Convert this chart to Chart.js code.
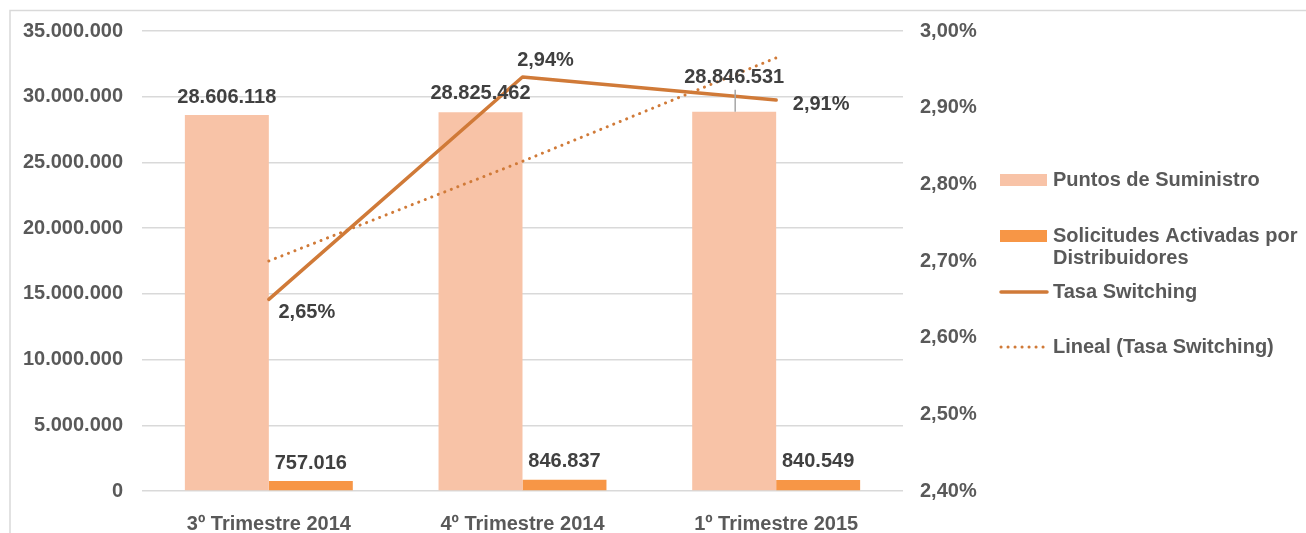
<!DOCTYPE html>
<html>
<head>
<meta charset="utf-8">
<script src="https://cdn.jsdelivr.net/npm/chart.js@4.4.1/dist/chart.umd.min.js"></script>
<style>
  html, body { margin: 0; padding: 0; background: #ffffff; }
  #wrap { width: 1306px; height: 533px; position: relative; }
</style>
</head>
<body>
<div id="wrap"><canvas id="c" width="1306" height="533"></canvas></div>
<script>
// ---- data ----
const categories = ['3º Trimestre 2014', '4º Trimestre 2014', '1º Trimestre 2015'];
const puntosSuministro = [28606118, 28825462, 28846531];
const solicitudesActivadas = [757016, 846837, 840549];
const tasaSwitching = [2.65, 2.94, 2.91];
const linealTasa = [2.70, 2.83, 2.965];
const leftTicks = [0, 5000000, 10000000, 15000000, 20000000, 25000000, 30000000, 35000000];
const rightTicks = [2.40, 2.50, 2.60, 2.70, 2.80, 2.90, 3.00];

const FONT = '"Liberation Sans", Arial, Helvetica, sans-serif';
const AXIS_COLOR = '#595959';
const LABEL_COLOR = '#404040';
const C_PUNTOS = '#F8C3A7';
const C_SOLIC = '#F79646';
const C_LINE = '#D07A38';

function fmtThousands(v) {
  return Math.round(v).toString().replace(/\B(?=(\d{3})+(?!\d))/g, '.');
}
function fmtPct(v) {
  return v.toFixed(2).replace('.', ',') + '%';
}

// data-label offsets (pixels relative to element anchor)
const labelOffsets = {
  puntos: [[0, -18], [0, -19], [0, -34]],
  solic: [[0, -18], [0, -18], [0, -18]],
  tasa: [[38, 13], [23, -17], [45, 4]]
};

const framePlugin = {
  id: 'frame',
  beforeDraw(chart) {
    const ctx = chart.ctx;
    ctx.save();
    ctx.fillStyle = '#ffffff';
    ctx.fillRect(0, 0, chart.width, chart.height);
    ctx.strokeStyle = '#D9D9D9';
    ctx.lineWidth = 1.5;
    ctx.beginPath();
    ctx.moveTo(10, chart.height);
    ctx.lineTo(10, 10.5);
    ctx.lineTo(chart.width, 10.5);
    ctx.stroke();
    ctx.restore();
  }
};

const labelsPlugin = {
  id: 'dlabels',
  afterDatasetsDraw(chart) {
    const ctx = chart.ctx;
    ctx.save();
    ctx.font = 'bold 20px ' + FONT;
    ctx.fillStyle = LABEL_COLOR;
    ctx.textAlign = 'center';
    ctx.textBaseline = 'middle';
    const puntosMeta = chart.getDatasetMeta(2);
    const solicMeta = chart.getDatasetMeta(3);
    const tasaMeta = chart.getDatasetMeta(0);
    // leader line for third Puntos label
    const p3 = puntosMeta.data[2];
    ctx.strokeStyle = '#A6A6A6';
    ctx.lineWidth = 1.5;
    ctx.beginPath();
    ctx.moveTo(p3.x + 1, p3.y + labelOffsets.puntos[2][1] + 12);
    ctx.lineTo(p3.x + 1, p3.y);
    ctx.stroke();
    puntosMeta.data.forEach((el, i) => {
      ctx.fillText(fmtThousands(puntosSuministro[i]), el.x + labelOffsets.puntos[i][0], el.y + labelOffsets.puntos[i][1]);
    });
    solicMeta.data.forEach((el, i) => {
      ctx.fillText(fmtThousands(solicitudesActivadas[i]), el.x + labelOffsets.solic[i][0], el.y + labelOffsets.solic[i][1]);
    });
    tasaMeta.data.forEach((el, i) => {
      ctx.fillText(fmtPct(tasaSwitching[i]), el.x + labelOffsets.tasa[i][0], el.y + labelOffsets.tasa[i][1]);
    });
    ctx.restore();
  }
};

const legendPlugin = {
  id: 'sideLegend',
  afterDraw(chart) {
    const ctx = chart.ctx;
    const ds = chart.data.datasets;
    const items = [
      { d: ds[2], type: 'box', y: 180 },
      { d: ds[3], type: 'box', y: 236 },
      { d: ds[0], type: 'line', y: 292 },
      { d: ds[1], type: 'dot', y: 347 }
    ];
    const sx = 1000, sw = 47, tx = 1053, maxW = 1306 - tx - 3;
    ctx.save();
    ctx.font = 'bold 20px ' + FONT;
    ctx.textAlign = 'left';
    ctx.textBaseline = 'middle';
    items.forEach(it => {
      if (it.type === 'box') {
        ctx.fillStyle = it.d.backgroundColor;
        ctx.fillRect(sx, it.y - 6, sw, 12);
      } else {
        ctx.strokeStyle = it.d.borderColor;
        ctx.lineWidth = it.d.borderWidth;
        ctx.lineCap = 'round';
        ctx.setLineDash(it.type === 'dot' ? it.d.borderDash : []);
        ctx.beginPath();
        ctx.moveTo(sx + 1, it.y);
        ctx.lineTo(sx + sw, it.y);
        ctx.stroke();
        ctx.setLineDash([]);
      }
      // word-wrap label
      const words = it.d.label.split(' ');
      const lines = [];
      let cur = '';
      words.forEach(w => {
        const test = cur ? cur + ' ' + w : w;
        if (ctx.measureText(test).width > maxW && cur) { lines.push(cur); cur = w; }
        else cur = test;
      });
      if (cur) lines.push(cur);
      ctx.fillStyle = AXIS_COLOR;
      lines.forEach((ln, k) => ctx.fillText(ln, tx, it.y + k * 22));
    });
    ctx.restore();
  }
};

new Chart(document.getElementById('c'), {
  data: {
    labels: categories,
    datasets: [
      {
        type: 'line', label: 'Tasa Switching', data: tasaSwitching, yAxisID: 'y1',
        borderColor: C_LINE, backgroundColor: C_LINE, borderWidth: 3.5,
        pointRadius: 0, tension: 0, order: 0, borderCapStyle: 'round', borderJoinStyle: 'round'
      },
      {
        type: 'line', label: 'Lineal (Tasa Switching)', data: linealTasa, yAxisID: 'y1',
        borderColor: C_LINE, backgroundColor: C_LINE, borderWidth: 3, borderDash: [0.1, 6.9],
        borderCapStyle: 'round', pointRadius: 0, tension: 0, order: 1
      },
      {
        type: 'bar', label: 'Puntos de Suministro', data: puntosSuministro, yAxisID: 'y',
        backgroundColor: C_PUNTOS, borderWidth: 0, categoryPercentage: 0.662, barPercentage: 1.0, order: 2
      },
      {
        type: 'bar', label: 'Solicitudes Activadas por Distribuidores', data: solicitudesActivadas, yAxisID: 'y',
        backgroundColor: C_SOLIC, borderWidth: 0, categoryPercentage: 0.662, barPercentage: 1.0, order: 3
      }
    ]
  },
  options: {
    responsive: false,
    animation: false,
    events: [],
    layout: { padding: { top: 31, left: 0, right: 0, bottom: 0 } },
    plugins: { legend: { display: false }, tooltip: { enabled: false } },
    scales: {
      x: {
        offset: true,
        grid: { display: false },
        border: { display: false },
        ticks: { color: AXIS_COLOR, font: { family: FONT, size: 20, weight: 'bold' }, padding: 13, maxRotation: 0 },
        afterFit(s) { s.height = 42; s.paddingLeft = 0; s.paddingRight = 0; }
      },
      y: {
        position: 'left', min: 0, max: 35000000,
        afterBuildTicks(s) { s.ticks = leftTicks.map(v => ({ value: v })); },
        grid: { color: '#D9D9D9', lineWidth: 1.5, drawTicks: false },
        border: { display: false },
        ticks: {
          color: AXIS_COLOR, font: { family: FONT, size: 20, weight: 'bold' }, padding: 19,
          callback: v => fmtThousands(v)
        },
        afterFit(s) { s.width = 142; s.paddingTop = 0; s.paddingBottom = 0; }
      },
      y1: {
        position: 'right', min: 2.40, max: 3.00,
        afterBuildTicks(s) { s.ticks = rightTicks.map(v => ({ value: v })); },
        grid: { display: false, drawTicks: false },
        border: { display: false },
        ticks: {
          color: AXIS_COLOR, font: { family: FONT, size: 20, weight: 'bold' }, padding: 17,
          callback: v => fmtPct(v)
        },
        afterFit(s) { s.width = 403; s.paddingTop = 0; s.paddingBottom = 0; }
      }
    }
  },
  plugins: [framePlugin, labelsPlugin, legendPlugin]
});
</script>
</body>
</html>
